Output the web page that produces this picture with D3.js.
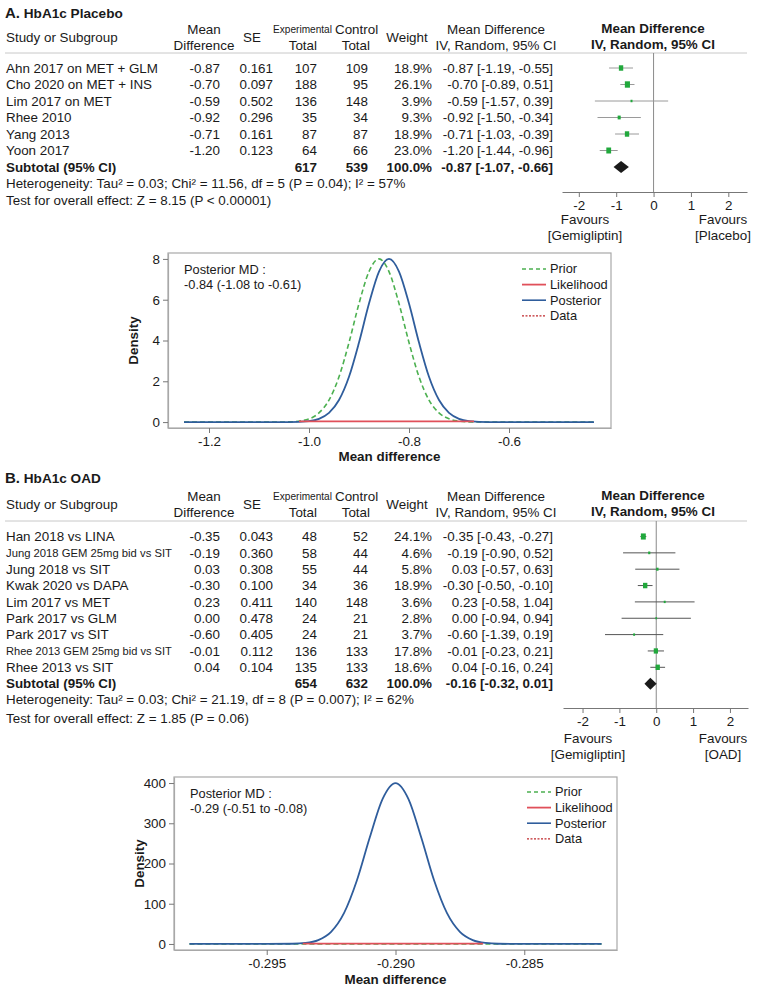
<!DOCTYPE html>
<html><head><meta charset="utf-8">
<script src="https://cdn.jsdelivr.net/npm/d3@7"></script>
<style>
body{margin:0;background:#fff;}
svg{display:block;font-family:'Liberation Sans',Arial,sans-serif;}
</style></head>
<body>
<svg id="c" width="758" height="991"></svg>
<script>
// ---------------- DATA ----------------
// Panel A : HbA1c Placebo
const studiesA = ["Ahn 2017 on MET + GLM","Cho 2020 on MET + INS","Lim 2017 on MET","Rhee 2010","Yang 2013","Yoon 2017"];
const mdA = [-0.87,-0.70,-0.59,-0.92,-0.71,-1.20];
const seA = [0.161,0.097,0.502,0.296,0.161,0.123];
const expA = [107,188,136,35,87,64];
const ctlA = [109,95,148,34,87,66];
const weightA = [18.9,26.1,3.9,9.3,18.9,23.0];
const loA = [-1.19,-0.89,-1.57,-1.50,-1.03,-1.44];
const hiA = [-0.55,-0.51,0.39,-0.34,-0.39,-0.96];
const ciTextA = ["-0.87 [-1.19, -0.55]","-0.70 [-0.89, 0.51]","-0.59 [-1.57, 0.39]","-0.92 [-1.50, -0.34]","-0.71 [-1.03, -0.39]","-1.20 [-1.44, -0.96]"];
const subA = {exp:617, ctl:539, weight:"100.0%", md:-0.87, lo:-1.07, hi:-0.66, text:"-0.87 [-1.07, -0.66]"};
const hetA = "Heterogeneity: Tau\u00b2 = 0.03; Chi\u00b2 = 11.56, df = 5 (P = 0.04); I\u00b2 = 57%";
const testA = "Test for overall effect: Z = 8.15 (P < 0.00001)";
const favoursA = ["[Gemigliptin]","[Placebo]"];

// Panel B : HbA1c OAD
const studiesB = ["Han 2018 vs LINA","Jung 2018 GEM 25mg bid vs SIT","Jung 2018 vs SIT","Kwak 2020 vs DAPA","Lim 2017 vs MET","Park 2017 vs GLM","Park 2017 vs SIT","Rhee 2013 GEM 25mg bid vs SIT","Rhee 2013 vs SIT"];
const mdB = [-0.35,-0.19,0.03,-0.30,0.23,0.00,-0.60,-0.01,0.04];
const seB = [0.043,0.360,0.308,0.100,0.411,0.478,0.405,0.112,0.104];
const expB = [48,58,55,34,140,24,24,136,135];
const ctlB = [52,44,44,36,148,21,21,133,133];
const weightB = [24.1,4.6,5.8,18.9,3.6,2.8,3.7,17.8,18.6];
const loB = [-0.43,-0.90,-0.57,-0.50,-0.58,-0.94,-1.39,-0.23,-0.16];
const hiB = [-0.27,0.52,0.63,-0.10,1.04,0.94,0.19,0.21,0.24];
const ciTextB = ["-0.35 [-0.43, -0.27]","-0.19 [-0.90, 0.52]","0.03 [-0.57, 0.63]","-0.30 [-0.50, -0.10]","0.23 [-0.58, 1.04]","0.00 [-0.94, 0.94]","-0.60 [-1.39, 0.19]","-0.01 [-0.23, 0.21]","0.04 [-0.16, 0.24]"];
const subB = {exp:654, ctl:632, weight:"100.0%", md:-0.16, lo:-0.32, hi:0.01, text:"-0.16 [-0.32, 0.01]"};
const hetB = "Heterogeneity: Tau\u00b2 = 0.03; Chi\u00b2 = 21.19, df = 8 (P = 0.007); I\u00b2 = 62%";
const testB = "Test for overall effect: Z = 1.85 (P = 0.06)";
const favoursB = ["[Gemigliptin]","[OAD]"];

const forestTicks = [-2,-1,0,1,2];

// Density A
const densXA     = [-1.25,-1.10,-1.04,-1.00,-0.98,-0.96,-0.94,-0.92,-0.90,-0.88,-0.86,-0.84,-0.82,-0.80,-0.78,-0.76,-0.74,-0.72,-0.70,-0.68,-0.64,-0.58,-0.43];
const priorA     = [0,0,0.01,0.16,0.45,1.08,2.22,3.90,5.81,7.38,8.00,7.38,5.81,3.90,2.22,1.08,0.45,0.16,0.05,0.01,0,0,0];
const posteriorA = [0,0,0,0.05,0.16,0.45,1.08,2.22,3.90,5.81,7.38,8.00,7.38,5.81,3.90,2.22,1.08,0.45,0.16,0.05,0,0,0];
const likeXA = [-1.02,-0.84,-0.67];
const likeA  = [0.03,0.03,0.03];
const yTicksA = [0,2,4,6,8];
const xTicksA = [-1.2,-1.0,-0.8,-0.6];
const postTextA = ["Posterior MD :","-0.84 (-1.08 to -0.61)"];

// Density B
const densXB     = [-0.2980,-0.2950,-0.2940,-0.2935,-0.2930,-0.2925,-0.2920,-0.2915,-0.2910,-0.2905,-0.2900,-0.2895,-0.2890,-0.2885,-0.2880,-0.2875,-0.2870,-0.2865,-0.2860,-0.2850,-0.2820];
const priorB     = [0,0,0,0,0,0,0,0,0,0,0,0,0,0,0,0,0,0,0,0,0];
const posteriorB = [0,0,0.5,2.5,9.7,30.2,76.6,157.8,264.6,360.8,400,360.8,264.6,157.8,76.6,30.2,9.7,2.5,0.5,0,0];
const likeXB = [-0.2936,-0.2900,-0.2866];
const likeB  = [0.8,0.8,0.8];
const yTicksB = [0,100,200,300,400];
const xTicksB = [-0.295,-0.290,-0.285];
const postTextB = ["Posterior MD :","-0.29 (-0.51 to -0.08)"];

const legendLabels = ["Prior","Likelihood","Posterior","Data"];

// ---------------- DRAW ----------------
const svg = d3.select("#c");
svg.append("rect").attr("width",758).attr("height",991).attr("fill","#fff");
const TXT = "#1a1a1a";
const GREEN = "#21a83c";
const FS = 13.4;
const hy = s => s.replace(/\u2212/g, "-");

function txt(g, x, y, s, opts={}) {
  const t = g.append("text").attr("x",x).attr("y",y).attr("dy","0.35em")
    .attr("font-size", opts.size || FS).attr("fill", TXT)
    .attr("text-anchor", opts.anchor || "start")
    .attr("font-weight", opts.bold ? "bold" : "normal").text(s);
  if (opts.len) {
    const L = t.node().getComputedTextLength();
    if (L > opts.len) t.attr("font-size", (opts.size || FS) * opts.len / L);
  }
  return t;
}

function forestPanel(p) {
  const g = svg.append("g");
  const tt = g.append("text").attr("x",5).attr("y",p.titleY).attr("dy","0.35em").attr("fill",TXT).attr("font-weight","bold");
  tt.append("tspan").attr("font-size",15).text(p.letter + ".");
  tt.append("tspan").attr("font-size",13.6).text(" " + p.title);

  const hY = p.headY;
  txt(g, 6, hY, "Study or Subgroup");
  txt(g, 204, hY-8, "Mean", {anchor:"middle"});
  txt(g, 204, hY+8, "Difference", {anchor:"middle"});
  txt(g, 252, hY, "SE", {anchor:"middle"});
  g.append("text").attr("x",273).attr("y",hY-8).attr("dy","0.35em").attr("font-size",10.2).attr("fill",TXT)
    .attr("textLength",59).attr("lengthAdjust","spacingAndGlyphs").text("Experimental");
  txt(g, 335, hY-8, "Control");
  txt(g, 317, hY+8, "Total", {anchor:"end"});
  txt(g, 370, hY+8, "Total", {anchor:"end"});
  txt(g, 407, hY, "Weight", {anchor:"middle"});
  txt(g, 496, hY-8, "Mean Difference", {anchor:"middle"});
  txt(g, 496, hY+8, "IV, Random, 95% CI", {anchor:"middle"});
  txt(g, 653, hY-9, "Mean Difference", {anchor:"middle", bold:true});
  txt(g, 653, hY+7, "IV, Random, 95% CI", {anchor:"middle", bold:true});

  g.append("line").attr("x1",5).attr("x2",747).attr("y1",p.sepY).attr("y2",p.sepY)
    .attr("stroke","#c8c8c8").attr("stroke-width",1);

  const n = p.studies.length;
  const rowY = d3.scaleLinear().domain([0,n]).range([p.row0, p.row0 + n*p.step]);
  const x = d3.scaleLinear().domain(p.xDomain).range(p.xRange);

  p.studies.forEach((s,i) => {
    const y = rowY(i);
    txt(g, 6, y, s, {len:166});
    txt(g, 220, y, p.md[i].toFixed(2), {anchor:"end"});
    txt(g, 273, y, p.se[i].toFixed(3), {anchor:"end"});
    txt(g, 317, y, p.exp[i], {anchor:"end"});
    txt(g, 368, y, p.ctl[i], {anchor:"end"});
    txt(g, 432, y, p.weight[i].toFixed(1) + "%", {anchor:"end"});
    txt(g, 553, y, p.ciText[i], {anchor:"end"});
  });
  const ys = rowY(n);
  txt(g, 6, ys, "Subtotal (95% CI)", {bold:true});
  txt(g, 317, ys, p.sub.exp, {anchor:"end", bold:true});
  txt(g, 368, ys, p.sub.ctl, {anchor:"end", bold:true});
  txt(g, 432, ys, p.sub.weight, {anchor:"end", bold:true});
  txt(g, 553, ys, p.sub.text, {anchor:"end", bold:true});
  txt(g, 6, p.hetY, p.het);
  txt(g, 6, p.testY, p.test);

  g.append("line").attr("x1",x(0)).attr("x2",x(0)).attr("y1",p.sepY).attr("y2",p.axisY)
    .attr("stroke","#8a8a8a").attr("stroke-width",1);
  p.studies.forEach((s,i) => {
    const y = rowY(i);
    g.append("line").attr("x1",x(p.lo[i])).attr("x2",x(p.hi[i])).attr("y1",y).attr("y2",y)
      .attr("stroke",p.ciColor).attr("stroke-width",1);
    const w = Math.max(1.6, Math.sqrt(p.weight[i])*1.0);
    const h = w*1.25;
    g.append("rect").attr("x",x(p.md[i])-w/2).attr("y",y-h/2).attr("width",w).attr("height",h)
      .attr("fill",GREEN);
  });
  const dh = 6;
  g.append("path").attr("d",
    `M${x(p.sub.lo)},${ys} L${x(p.sub.md)},${ys-dh} L${x(p.sub.hi)},${ys} L${x(p.sub.md)},${ys+dh} Z`)
    .attr("fill","#1a1a1a");
  const ax = g.append("g").attr("transform",`translate(0,${p.axisY})`)
    .call(d3.axisBottom(x).tickValues(forestTicks).tickSize(5).tickSizeOuter(0).tickFormat(d => hy(d3.format("d")(d))));
  ax.select(".domain").attr("stroke","#777");
  ax.selectAll(".tick line").attr("stroke","#777");
  ax.selectAll(".tick text").attr("font-size",FS).attr("fill",TXT).attr("font-family","'Liberation Sans',Arial,sans-serif");
  txt(g, p.fav[0], p.favY, "Favours", {anchor:"middle"});
  txt(g, p.fav[0], p.favY+16, p.favours[0], {anchor:"middle"});
  txt(g, p.fav[1], p.favY, "Favours", {anchor:"middle"});
  txt(g, p.fav[1], p.favY+16, p.favours[1], {anchor:"middle"});
}

function densityPanel(p) {
  const g = svg.append("g");
  const x = d3.scaleLinear().domain(p.xDomain).range([p.left, p.right]);
  const y = d3.scaleLinear().domain(p.yDomain).range([p.bottom, p.top]);
  g.append("rect").attr("x",p.left).attr("y",p.top).attr("width",p.right-p.left).attr("height",p.bottom-p.top)
    .attr("fill","none").attr("stroke","#a8a8a8").attr("stroke-width",1.2);
  const ax = g.append("g").attr("transform",`translate(0,${p.bottom})`)
    .call(d3.axisBottom(x).tickValues(p.xTicks).tickSize(5).tickSizeOuter(0).tickFormat(d => hy(d3.format(p.xFmt)(d))));
  const ay = g.append("g").attr("transform",`translate(${p.left},0)`)
    .call(d3.axisLeft(y).tickValues(p.yTicks).tickSize(5).tickSizeOuter(0).tickFormat(d3.format("d")));
  [ax,ay].forEach(a => {
    a.select(".domain").attr("stroke","#a8a8a8").attr("stroke-width",1.2);
    a.selectAll(".tick line").attr("stroke","#777");
    a.selectAll(".tick text").attr("font-size",FS).attr("fill",TXT).attr("font-family","'Liberation Sans',Arial,sans-serif");
  });
  ax.selectAll(".tick text").attr("dy","0.72em");
  const line = d3.line().x(d=>x(d[0])).y(d=>y(d[1])).curve(d3.curveMonotoneX);
  const zip = (xs, vs) => xs.map((v,i)=>[v, vs[i]]);
  g.append("path").attr("d", line(zip(p.xs, p.prior))).attr("fill","none")
    .attr("stroke","#4cb050").attr("stroke-width",1.6).attr("stroke-dasharray","5,3");
  g.append("path").attr("d", line(zip(p.xs, p.post))).attr("fill","none")
    .attr("stroke","#2f5d9c").attr("stroke-width",1.8);
  g.append("path").attr("d", line(zip(p.likeX, p.like))).attr("fill","none")
    .attr("stroke","#e0505a").attr("stroke-width",1.8);
  txt(g, p.left+16, p.top+17, p.postText[0], {size:12.8});
  txt(g, p.left+16, p.top+32, p.postText[1], {size:12.8});
  const styles = [
    {c:"#4cb050", d:"4,3", w:1.4},
    {c:"#e0505a", d:null, w:1.8},
    {c:"#2f5d9c", d:null, w:1.6},
    {c:"#c0282d", d:"2,1.5", w:1.2}
  ];
  legendLabels.forEach((lab,i) => {
    const ly = p.legY + i*15.6;
    const l = g.append("line").attr("x1",p.legX).attr("x2",p.legX+24).attr("y1",ly).attr("y2",ly)
      .attr("stroke",styles[i].c).attr("stroke-width",styles[i].w);
    if (styles[i].d) l.attr("stroke-dasharray",styles[i].d);
    txt(g, p.legX+28, ly, lab, {size:12.8});
  });
  txt(g, (p.left+p.right)/2, p.bottom+p.labDy, "Mean difference", {anchor:"middle", bold:true});
  g.append("text").attr("transform",`translate(${p.yLabX},${(p.top+p.bottom)/2}) rotate(-90)`)
    .attr("text-anchor","middle").attr("dy","0.35em").attr("font-size",FS).attr("font-weight","bold")
    .attr("fill",TXT).text("Density");
}

forestPanel({
  letter:"A", title:"HbA1c Placebo", titleY:12, headY:37, sepY:53,
  studies:studiesA, md:mdA, se:seA, exp:expA, ctl:ctlA, weight:weightA, lo:loA, hi:hiA, ciText:ciTextA,
  sub:subA, het:hetA, test:testA, row0:68, step:16.5, hetY:183, testY:200,
  xDomain:[-2.45,2.5], xRange:[562,747], axisY:192, ciColor:"#9a9a9a",
  fav:[585,723], favY:219, favours:favoursA
});
forestPanel({
  letter:"B", title:"HbA1c OAD", titleY:477, headY:504, sepY:521,
  studies:studiesB, md:mdB, se:seB, exp:expB, ctl:ctlB, weight:weightB, lo:loB, hi:hiB, ciText:ciTextB,
  sub:subB, het:hetB, test:testB, row0:536.5, step:16.35, hetY:699, testY:718,
  xDomain:[-2.53,2.49], xRange:[563,748], axisY:708, ciColor:"#555",
  fav:[588,723], favY:738, favours:favoursB
});

densityPanel({
  left:168, right:611, top:253, bottom:428,
  xDomain:[-1.282,-0.396], yDomain:[-0.29,8.29],
  xTicks:xTicksA, yTicks:yTicksA, xFmt:".1f",
  xs:densXA, prior:priorA, post:posteriorA, likeX:likeXA, like:likeA,
  postText:postTextA, legX:522, legY:269, yLabX:133, labDy:28
});
densityPanel({
  left:174, right:617, top:777, bottom:950,
  xDomain:[-0.2986,-0.2814], yDomain:[-15,415],
  xTicks:xTicksB, yTicks:yTicksB, xFmt:".3f",
  xs:densXB, prior:priorB, post:posteriorB, likeX:likeXB, like:likeB,
  postText:postTextB, legX:527, legY:792, yLabX:139, labDy:29
});
</script>
</body></html>
